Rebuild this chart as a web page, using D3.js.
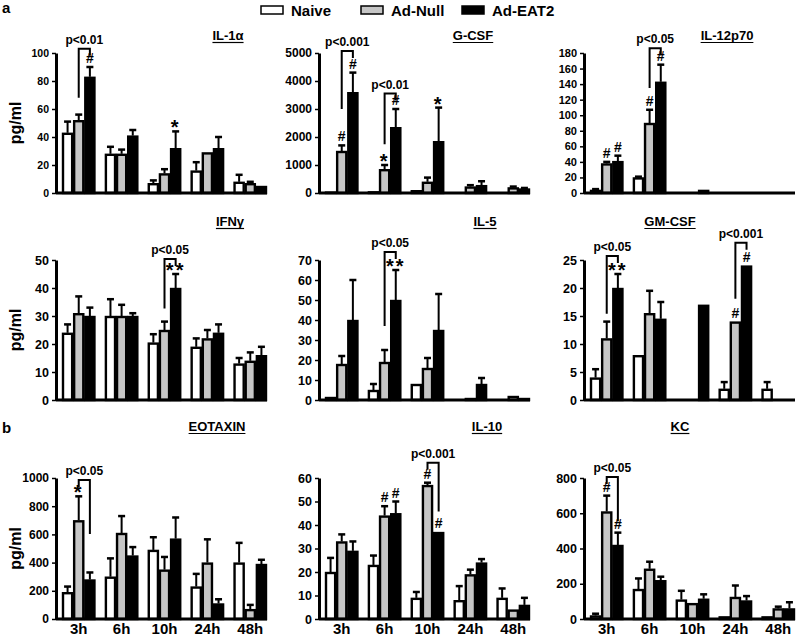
<!DOCTYPE html>
<html><head><meta charset="utf-8">
<script src="https://cdn.jsdelivr.net/npm/d3@7"></script>
<style>body{margin:0;background:#fff}svg{display:block;font-family:"Liberation Sans",Arial,sans-serif;font-weight:bold}</style>
</head><body><svg id="c" width="800" height="639"></svg>
<script>
// ---------- DATA ----------
const times = ["3h","6h","10h","24h","48h"];
const groupNames = ["Naive","Ad-Null","Ad-EAT2"];

// IL-1α
const il1aMean  = [[43,28,7,16,8],[52,28,14,29,7],[83,41,32,32,5]];
const il1aUpper = [[51,33,9,22,13],[56,31,17,29,8],[90,45,44,40,5]];
const il1aTicks = [0,20,40,60,80,100];
const il1aBrackets = [{g:0,long:1,short:2,top:103,to:68,label:"p<0.01"}];
const il1aMarks = [{g:0,s:2,t:"#"},{g:2,s:2,t:"*"}];

// G-CSF
const gcsfMean  = [[50,60,100,20,20],[1500,850,400,230,200],[3600,2350,1850,280,160]];
const gcsfUpper = [[50,60,100,20,20],[1700,1000,550,280,230],[4300,3000,3050,420,180]];
const gcsfTicks = [0,1000,2000,3000,4000,5000];
const gcsfBrackets = [{g:0,long:1,short:2,top:5070,to:3000,label:"p<0.001"},{g:1,long:1,short:2,top:3550,to:1740,label:"p<0.01"}];
const gcsfMarks = [{g:0,s:1,t:"#"},{g:0,s:2,t:"#"},{g:1,s:1,t:"*"},{g:1,s:2,t:"#"},{g:2,s:2,t:"*"}];

// IL-12p70
const il12Mean  = [[4,20,1,1,1],[38,90,1,1,1],[41,143,4,1,1]];
const il12Upper = [[5,21,1,1,1],[40,107,1,1,1],[48,165,4,1,1]];
const il12Ticks = [0,20,40,60,80,100,120,140,160,180];
const il12Brackets = [{g:1,long:1,short:2,top:186,to:135,label:"p<0.05"}];
const il12Marks = [{g:0,s:1,t:"#"},{g:0,s:2,t:"#"},{g:1,s:1,t:"#"},{g:1,s:2,t:"#"}];

// IFNγ
const ifngMean  = [[24,30,20.5,19,13],[31,30,25,22,14],[30,30,40,24,16]];
const ifngUpper = [[27,36,23.5,22,15],[37,34,28,25,17],[33,31,45,27,19]];
const ifngTicks = [0,10,20,30,40,50];
const ifngBrackets = [{g:2,long:1,short:2,top:50.4,to:32.7,label:"p<0.05"}];
const ifngMarks = [{g:2,s:2,t:"**"}];

// IL-5
const il5Mean  = [[1.5,5,8,0.5,0.5],[18,19,16,1,2],[40,50,35,8,1]];
const il5Upper = [[1.5,8,8,0.5,0.5],[22,25,21,1,2],[60,65,53,11,1]];
const il5Ticks = [0,10,20,30,40,50,60,70];
const il5Brackets = [{g:1,long:1,short:2,top:74,to:37,label:"p<0.05"}];
const il5Marks = [{g:1,s:2,t:"**"}];

// GM-CSF
const gmcsfMean  = [[4,8,0,2,2],[11,15.5,0,14,0],[20,14.5,17,24,0]];
const gmcsfUpper = [[5.5,8,0,3.2,3.2],[14,19.5,0,14,0],[22.5,17.5,17,24,0]];
const gmcsfTicks = [0,5,10,15,20,25];
const gmcsfBrackets = [{g:0,long:1,short:2,top:25.7,to:15.4,label:"p<0.05"},{g:3,long:1,short:2,top:28.1,to:18.1,label:"p<0.001"}];
const gmcsfMarks = [{g:0,s:2,t:"**"},{g:3,s:1,t:"#"},{g:3,s:2,t:"#"}];

// EOTAXIN
const eotaxinMean  = [[190,300,490,230,400],[700,610,350,400,70],[280,450,570,110,390]];
const eotaxinUpper = [[230,430,580,320,540],[870,730,440,565,100],[330,510,720,140,420]];
const eotaxinTicks = [0,200,400,600,800,1000];
const eotaxinBrackets = [{g:0,long:2,short:1,top:986,to:603,label:"p<0.05"}];
const eotaxinMarks = [{g:0,s:1,t:"*"}];

// IL-10
const il10Mean  = [[20,23,9,8,9],[33,44,57,19,4],[29,45,37,24,6]];
const il10Upper = [[26,27,11.5,14,13],[36,48,58,21,4],[33,50,37,25.5,9]];
const il10Ticks = [0,10,20,30,40,50,60];
const il10Brackets = [{g:2,long:2,short:1,top:66.5,to:45.7,label:"p<0.001"}];
const il10Marks = [{g:1,s:1,t:"#"},{g:1,s:2,t:"#"},{g:2,s:1,t:"#"},{g:2,s:2,t:"#"}];

// KC
const kcMean  = [[20,170,110,15,15],[610,285,90,125,60],[420,220,115,105,60]];
const kcUpper = [[30,230,160,15,15],[700,325,90,190,70],[490,240,140,130,95]];
const kcTicks = [0,200,400,600,800];
const kcBrackets = [{g:0,long:2,short:1,top:806,to:554,label:"p<0.05"}];
const kcMarks = [{g:0,s:1,t:"#"},{g:0,s:2,t:"#"}];

const panels = [
  {title:"IL-1α", mean:il1aMean, upper:il1aUpper, ticks:il1aTicks, brackets:il1aBrackets, marks:il1aMarks},
  {title:"G-CSF", mean:gcsfMean, upper:gcsfUpper, ticks:gcsfTicks, brackets:gcsfBrackets, marks:gcsfMarks},
  {title:"IL-12p70", mean:il12Mean, upper:il12Upper, ticks:il12Ticks, brackets:il12Brackets, marks:il12Marks},
  {title:"IFNγ", mean:ifngMean, upper:ifngUpper, ticks:ifngTicks, brackets:ifngBrackets, marks:ifngMarks},
  {title:"IL-5", mean:il5Mean, upper:il5Upper, ticks:il5Ticks, brackets:il5Brackets, marks:il5Marks},
  {title:"GM-CSF", mean:gmcsfMean, upper:gmcsfUpper, ticks:gmcsfTicks, brackets:gmcsfBrackets, marks:gmcsfMarks},
  {title:"EOTAXIN", mean:eotaxinMean, upper:eotaxinUpper, ticks:eotaxinTicks, brackets:eotaxinBrackets, marks:eotaxinMarks},
  {title:"IL-10", mean:il10Mean, upper:il10Upper, ticks:il10Ticks, brackets:il10Brackets, marks:il10Marks},
  {title:"KC", mean:kcMean, upper:kcUpper, ticks:kcTicks, brackets:kcBrackets, marks:kcMarks}
];

// ---------- LAYOUT ----------
const fills = ["#ffffff","#c6c6c6","#000000"];
const colX = [56,319,584];
const axisLen = 211;
const rowY = [[53,193],[260,400],[478,619]];
const titleX = [[228,473,727],[230,485,670],[217,487,680]];
const titleY = [40,226,431];
const tickFont = [10.5,12,11,12.5,12.5,12.5,12,12.5,12.5];

const svg = d3.select("#c");

// panel letters
svg.append("text").attr("x",2).attr("y",13).attr("font-size",15).text("a");
svg.append("text").attr("x",2).attr("y",433).attr("font-size",15).text("b");

// legend
const legX = [261,361,462];
groupNames.forEach((n,i)=>{
  svg.append("rect").attr("x",legX[i]).attr("y",6).attr("width",22).attr("height",8)
    .attr("fill",fills[i]).attr("stroke","#000").attr("stroke-width",1.5);
  svg.append("text").attr("x",legX[i]+30).attr("y",15.5).attr("font-size",15).text(n);
});

panels.forEach((p,i)=>{
  const r = Math.floor(i/3), c = i%3;
  const x0 = colX[c], yTop = rowY[r][0], yBot = rowY[r][1];
  const y = d3.scaleLinear().domain([0, p.ticks[p.ticks.length-1]]).range([yBot,yTop]);
  const x = d3.scaleBand().domain(times).range([x0+6, x0+axisLen]).paddingInner(0.22).paddingOuter(0);
  const xs = d3.scaleBand().domain([0,1,2]).range([0,x.bandwidth()]);
  const bw = xs.bandwidth();
  const g = svg.append("g");
  const cx = (k,s)=> x(times[k]) + xs(s) + bw/2;

  // error bars then bars
  groupNames.forEach((gn,s)=>{
    times.forEach((t,k)=>{
      const v = p.mean[s][k], up = p.upper[s][k];
      const xc = cx(k,s);
      if (up > v) {
        g.append("line").attr("x1",xc).attr("x2",xc).attr("y1",y(v)).attr("y2",y(up))
          .attr("stroke","#000").attr("stroke-width",2);
        g.append("line").attr("x1",xc-3.5).attr("x2",xc+3.5).attr("y1",y(up)).attr("y2",y(up))
          .attr("stroke","#000").attr("stroke-width",2.5);
      }
      if (v > 0) {
        g.append("rect").attr("x",x(t)+xs(s)+1).attr("width",bw-2)
          .attr("y",y(v)+1).attr("height",Math.max(0,y(0)-y(v)-1))
          .attr("fill",fills[s]).attr("stroke","#000").attr("stroke-width",2.4);
      }
    });
  });

  // y axis
  const ya = g.append("g").attr("transform",`translate(${x0},0)`)
    .call(d3.axisLeft(y).tickValues(p.ticks).tickFormat(d3.format("d")).tickSize(4).tickSizeOuter(0).tickPadding(3));
  ya.select(".domain").attr("stroke-width",3);
  ya.selectAll(".tick line").attr("stroke-width",1.5);
  ya.selectAll("text").attr("font-size",tickFont[i]).attr("font-family","Liberation Sans, Arial, sans-serif").attr("font-weight","bold").attr("fill","#000");

  // x axis
  const xa = g.append("g").attr("transform",`translate(0,${yBot})`)
    .call(d3.axisBottom(x).tickSize(0).tickPadding(4));
  xa.select(".domain").attr("d",`M${x0},0H${x0+axisLen}`).attr("stroke-width",3);
  if (r === 2) {
    xa.selectAll("text").attr("font-size",15).attr("font-family","Liberation Sans, Arial, sans-serif").attr("font-weight","bold").attr("fill","#000");
  } else {
    xa.selectAll("text").remove();
  }

  // y label
  if (c === 0) {
    svg.append("text").attr("transform",`translate(21,${(yTop+yBot)/2}) rotate(-90)`)
      .attr("text-anchor","middle").attr("font-size",16).text("pg/ml");
  }

  // title (underlined)
  const tt = svg.append("text").attr("x",titleX[r][c]).attr("y",titleY[r]).attr("text-anchor","middle")
    .attr("font-size",13).text(p.title);
  const tw = tt.node().getComputedTextLength();
  svg.append("line").attr("x1",titleX[r][c]-tw/2).attr("x2",titleX[r][c]+tw/2)
    .attr("y1",titleY[r]+2.5).attr("y2",titleY[r]+2.5).attr("stroke","#000").attr("stroke-width",1.2);

  // brackets
  p.brackets.forEach(b=>{
    const xl = cx(b.g,b.long), xsh = cx(b.g,b.short), yt = y(b.top);
    g.append("path").attr("d",`M${xl},${y(b.to)}V${yt}H${xsh}V${yt+7}`)
      .attr("fill","none").attr("stroke","#000").attr("stroke-width",2);
    g.append("text").attr("x",(xl+xsh)/2).attr("y",yt-5).attr("text-anchor","middle")
      .attr("font-size",12).text(b.label);
  });

  // significance marks
  p.marks.forEach(m=>{
    const top = Math.max(p.mean[m.s][m.g], p.upper[m.s][m.g]);
    const isStar = m.t.indexOf("*") >= 0;
    g.append("text").attr("x",cx(m.g,m.s)).attr("y",y(top) + (isStar ? 3 : -4))
      .attr("text-anchor","middle").attr("font-size",isStar ? 20 : 14)
      .attr("letter-spacing",isStar ? 2 : 0).text(m.t);
  });
});
</script></body></html>
